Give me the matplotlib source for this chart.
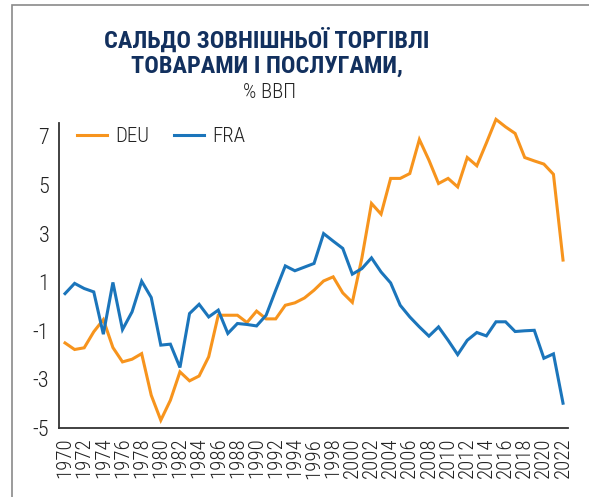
import matplotlib
matplotlib.use("Agg")
import matplotlib.pyplot as plt
from matplotlib import font_manager
from matplotlib.patches import Rectangle

years = list(range(1970, 2023))
deu = [-1.50, -1.77, -1.70, -1.04, -0.54, -1.69, -2.28, -2.17, -1.94, -3.65,
       -4.68, -3.86, -2.69, -3.06, -2.86, -2.07, -0.36, -0.36, -0.36, -0.66,
       -0.19, -0.51, -0.51, 0.05, 0.15, 0.35, 0.67, 1.05, 1.22, 0.56,
       0.17, 2.00, 4.24, 3.80, 5.27, 5.27, 5.47, 6.87, 6.02, 5.06,
       5.27, 4.92, 6.13, 5.79, 6.73, 7.70, 7.39, 7.12, 6.13, 5.99,
       5.86, 5.44, 1.91]
fra = [0.53, 0.95, 0.74, 0.60, -1.14, 0.99, -0.95, -0.22, 1.04, 0.37,
       -1.59, -1.55, -2.51, -0.29, 0.09, -0.43, -0.15, -1.11, -0.70, -0.74,
       -0.80, -0.36, 0.67, 1.67, 1.47, 1.62, 1.77, 3.00, 2.69, 2.39,
       1.33, 1.56, 2.00, 1.42, 0.97, 0.05, -0.43, -0.84, -1.22, -0.84,
       -1.39, -1.98, -1.39, -1.07, -1.21, -0.63, -0.63, -1.03, -1.00, -0.98,
       -2.13, -1.95, -3.98]
series_names = ["DEU", "FRA"]
yticks = [-5, -3, -1, 1, 3, 5, 7]
xtick_years = list(range(1970, 2023, 2))
title_lines = ["САЛЬДО ЗОВНІШНЬОЇ ТОРГІВЛІ", "ТОВАРАМИ І ПОСЛУГАМИ,"]
subtitle = "% ВВП"

names = {f.name for f in font_manager.fontManager.ttflist}
cond = None
for c in ["Roboto Condensed", "Open Sans Condensed", "Liberation Sans Narrow", "DejaVu Sans Condensed"]:
    if c in names:
        cond = c
        break
tick_font = cond if cond else "Roboto"
title_font = cond if cond else "Roboto"

W, H = 589, 497
fig = plt.figure(figsize=(W / 100, H / 100), dpi=100)

# outer frame (left & top visible)
fig.patches.append(Rectangle((12 / W, -0.1), 1.2, (1 - 5 / H) + 0.1,
                             transform=fig.transFigure, fill=False,
                             edgecolor="#8a8a8a", linewidth=1.2))

ax = fig.add_axes([59 / W, 1 - 428 / H, (568 - 59) / W, (428 - 123) / H])
c_deu = "#F7941D"
c_fra = "#1B75BB"
ax.plot(years, deu, color=c_deu, lw=2.2, label=series_names[0], clip_on=False, solid_joinstyle="miter")
ax.plot(years, fra, color=c_fra, lw=2.2, label=series_names[1], clip_on=False, solid_joinstyle="miter")

ax.set_xlim(1969.37, 2022.52)
ax.set_ylim(-5, 7.55)
ax.set_yticks(yticks)
ax.set_yticklabels([str(v) for v in yticks], fontsize=16, family=tick_font,
                   fontweight="light", color="#222222")
ax.set_xticks(xtick_years)
ax.set_xticklabels([str(v) for v in xtick_years], rotation=90, fontsize=15,
                   family=tick_font, fontweight="light", color="#222222",
                   va="top", ha="center")
ax.tick_params(axis="both", length=0)
ax.tick_params(axis="x", pad=7)
ax.tick_params(axis="y", pad=7)
for s in ["top", "right"]:
    ax.spines[s].set_visible(False)
for s in ["left", "bottom"]:
    ax.spines[s].set_color("#333333")
    ax.spines[s].set_linewidth(1.3)

leg = ax.legend(loc="center left", ncol=2, frameon=False,
                prop={"family": tick_font, "size": 15, "weight": "light"},
                handlelength=1.45, handletextpad=0.4, columnspacing=1.15,
                borderpad=0, borderaxespad=0,
                bbox_to_anchor=((77 - 59) / 509, (428 - 137) / 305))
for t in leg.get_texts():
    t.set_color("#222222")

fig.text(267 / W, 1 - 40 / H, title_lines[0], ha="center", va="center",
         fontsize=17.5, fontweight="bold", family=title_font, color="#12305E")
fig.text(267 / W, 1 - 66 / H, title_lines[1], ha="center", va="center",
         fontsize=17.5, fontweight="bold", family=title_font, color="#12305E")
fig.text(270 / W, 1 - 93 / H, subtitle, ha="center", va="center",
         fontsize=15, family=title_font, fontweight="light", color="#222222")

fig.savefig("out.png", dpi=100)
